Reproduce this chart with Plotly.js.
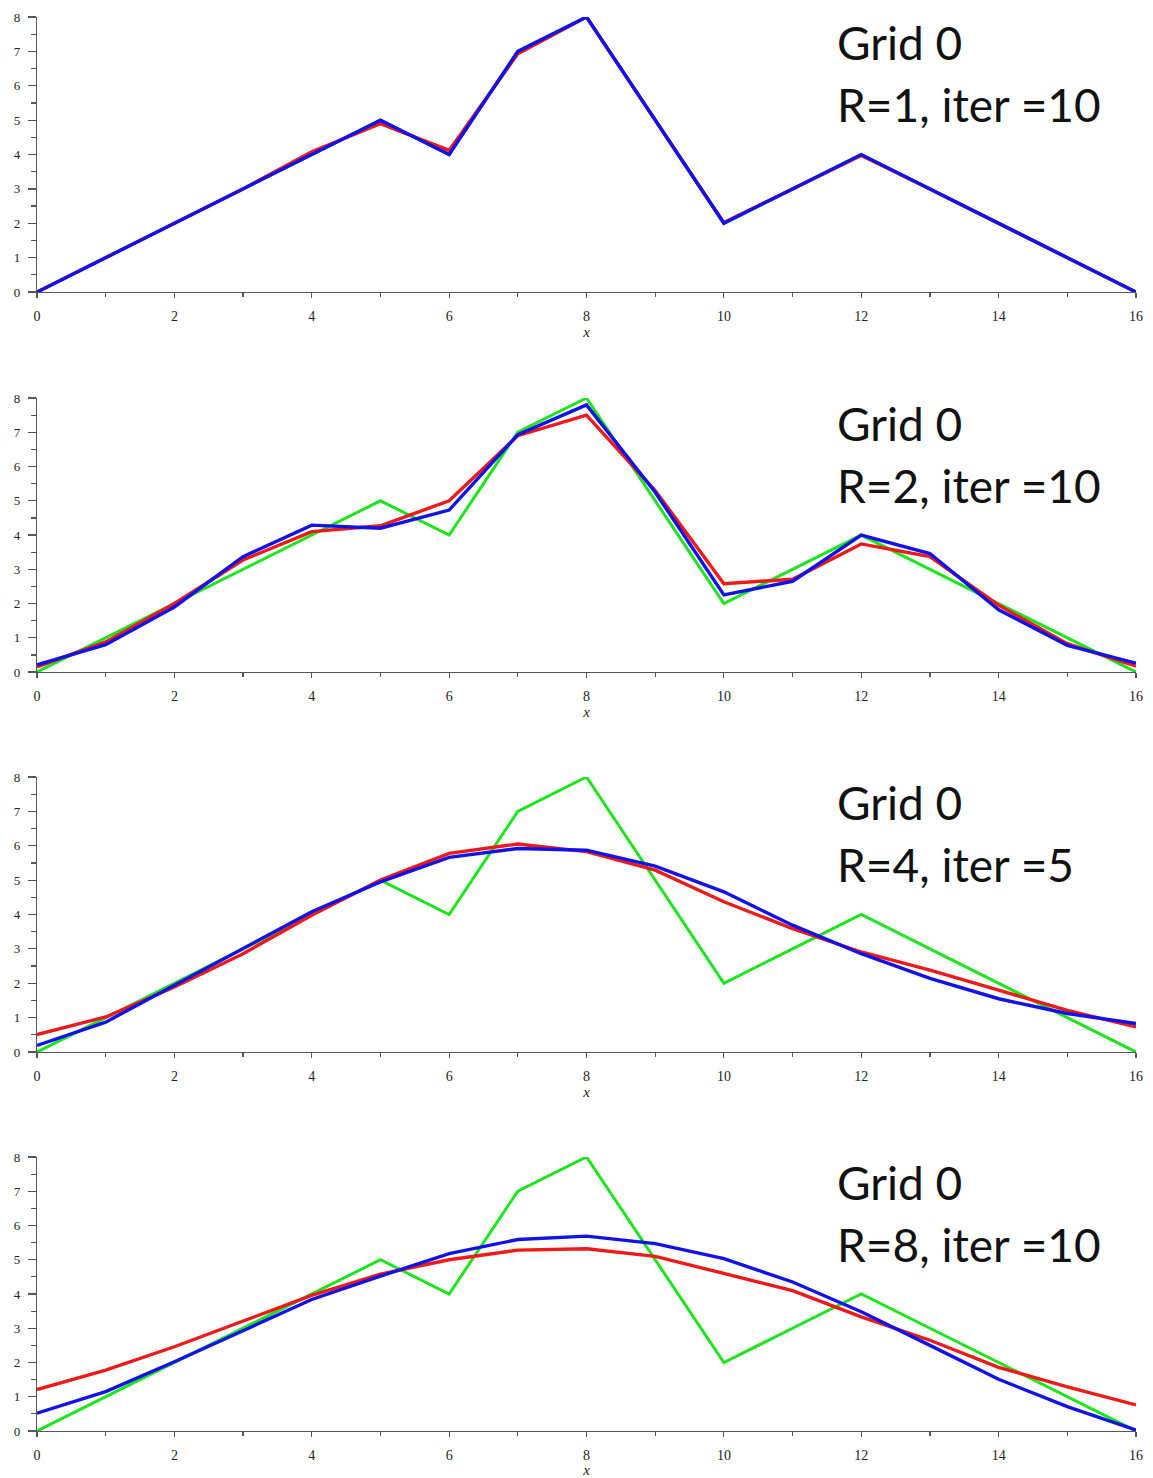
<!DOCTYPE html>
<html>
<head>
<meta charset="utf-8">
<script src="https://cdn.plot.ly/plotly-3.0.1.min.js"></script>
<style>html,body{margin:0;padding:0;background:#fff;}#chart{width:1153px;height:1478px;}</style>
</head>
<body>
<div id="chart"></div>
<script>
// ---- data ----
var xs = [0,1,2,3,4,5,6,7,8,9,10,11,12,13,14,15,16];
var original = [0,1,2,3,4,5,4,7,8,5,2,3,4,3,2,1,0];

var panelLabels = ["R=1, iter =10", "R=2, iter =10", "R=4, iter =5", "R=8, iter =10"];
var gridLabel = "Grid 0";

var red1  = [0,1,2.02,3,4.08,4.9,4.12,6.93,8,5,2.02,3,3.97,3,2,1,0];
var blue1 = [0,1,2,3,4,5,4,7,8,5,2,3,4,3,2,1,0];

var red2  = [0.15,0.88,2.0,3.27,4.1,4.27,5.0,6.9,7.5,5.3,2.58,2.71,3.74,3.37,1.95,0.83,0.17];
var blue2 = [0.21,0.8,1.9,3.37,4.29,4.2,4.73,6.93,7.8,5.25,2.25,2.65,4.0,3.46,1.82,0.78,0.26];

var red3  = [0.51,1.02,1.89,2.86,3.98,5.0,5.78,6.05,5.83,5.29,4.37,3.59,2.91,2.38,1.8,1.21,0.73];
var blue3 = [0.19,0.87,1.94,3.0,4.08,4.95,5.66,5.92,5.87,5.41,4.66,3.69,2.86,2.14,1.55,1.12,0.83];

var red4  = [1.21,1.78,2.46,3.21,3.96,4.58,5.0,5.28,5.32,5.1,4.6,4.1,3.33,2.65,1.86,1.29,0.76];
var blue4 = [0.52,1.15,2.02,2.94,3.84,4.52,5.18,5.59,5.69,5.47,5.03,4.35,3.48,2.5,1.51,0.71,0.03];

var reds = [red1, red2, red3, red4];
var blues = [blue1, blue2, blue3, blue4];

// ---- styling ----
var GREEN = "#1ee41e", RED = "#ee1a1a", BLUE = "#1212e8";
var domains = [[0.8024,0.9885],[0.5453,0.7307],[0.2882,0.4743],[0.0318,0.2172]];

var traces = [];
var layout = {
  width: 1153, height: 1478,
  margin: {l:37, r:17, t:0, b:0},
  paper_bgcolor: "#fff", plot_bgcolor: "#fff",
  showlegend: false,
  annotations: []
};

for (var i = 0; i < 4; i++) {
  var n = i === 0 ? "" : String(i+1);
  var xa = "x" + n, ya = "y" + n;
  traces.push({x: xs, y: original, xaxis: xa, yaxis: ya, mode: "lines",
               line: {color: GREEN, width: 3}, hoverinfo: "skip"});
  traces.push({x: xs, y: reds[i], xaxis: xa, yaxis: ya, mode: "lines",
               line: {color: RED, width: 3.4}, hoverinfo: "skip"});
  traces.push({x: xs, y: blues[i], xaxis: xa, yaxis: ya, mode: "lines",
               line: {color: BLUE, width: 3.4}, hoverinfo: "skip"});

  layout["xaxis" + n] = {
    domain: [0,1], anchor: ya, range: [0,16],
    showgrid: false, zeroline: false,
    showline: true, linecolor: "#555", linewidth: 1.2,
    ticks: "outside", ticklen: 5, tickwidth: 1.2, tickcolor: "#555",
    dtick: 2, tick0: 0, ticklabelstandoff: 6,
    minor: {dtick: 1, ticks: "outside", ticklen: 4, tickcolor: "#555", tickwidth: 1.2, showgrid: false},
    tickfont: {family: "Liberation Serif, serif", size: 14, color: "#222"},
    title: {text: "<i>x</i>", font: {family: "Liberation Serif, serif", size: 15, color: "#222"}, standoff: 2}
  };
  layout["yaxis" + n] = {
    domain: domains[i], anchor: xa, range: [0,8],
    showgrid: false, zeroline: false,
    showline: true, linecolor: "#555", linewidth: 1.2,
    ticks: "outside", ticklen: 8, tickwidth: 1.2, tickcolor: "#555",
    dtick: 1, tick0: 0, ticklabelstandoff: 5,
    minor: {dtick: 0.5, ticks: "outside", ticklen: 5, tickcolor: "#555", tickwidth: 1.2, showgrid: false},
    tickfont: {family: "Liberation Serif, serif", size: 13, color: "#222"}
  };

  layout.annotations.push({
    xref: xa, yref: ya, x: 11.62, y: 7.26, xanchor: "left", yanchor: "middle",
    text: gridLabel, showarrow: false,
    font: {family: "Lato, Noto Sans, sans-serif", size: 46, color: "#111"}
  });
  layout.annotations.push({
    xref: xa, yref: ya, x: 11.62, y: 5.45, xanchor: "left", yanchor: "middle",
    text: panelLabels[i], showarrow: false,
    font: {family: "Lato, Noto Sans, sans-serif", size: 46, color: "#111"}
  });
}

Plotly.newPlot("chart", traces, layout, {displayModeBar: false, staticPlot: true});
</script>
</body>
</html>
